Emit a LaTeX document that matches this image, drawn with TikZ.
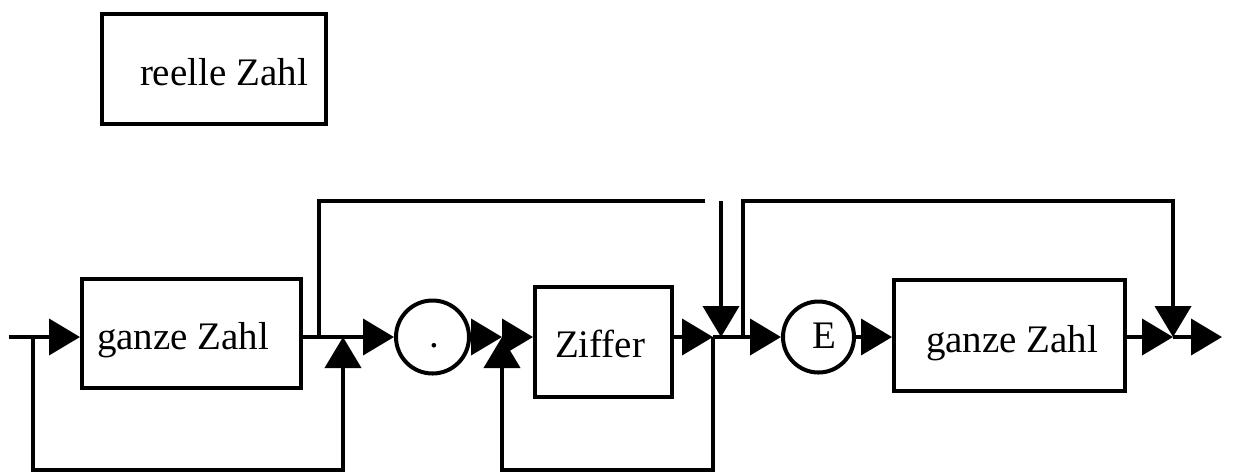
\documentclass[tikz,border=0pt]{standalone}
\usepackage{fontspec}
\setmainfont{Liberation Serif}
\usetikzlibrary{arrows.meta}
\begin{document}
\begin{tikzpicture}[x=0.5pt,y=-0.5pt,
  line width=2pt,
  box/.style={draw,rectangle,inner sep=0pt,line width=2pt},
  ring/.style={draw,circle,inner sep=0pt,line width=2pt},
  lbl/.style={inner sep=0pt,anchor=base west,font=\fontsize{19.5}{23}\selectfont},
  arr/.style={-{Triangle[length=15.5pt,width=18pt]}},
  ]
\useasboundingbox (0,0) rectangle (1234,472);
% title box
\node[box,minimum width=112pt,minimum height=55pt] (title) at (214,69) {};
\node[lbl] (titletext) at (138,85) {reelle Zahl};
% main nodes
\node[box,minimum width=109.5pt,minimum height=54.5pt] (b1) at (191.5,333.5) {};
\node[lbl] (b1text) at (95,349) {ganze Zahl};
\node[ring,minimum size=36.5pt] (dot) at (432.5,337) {};
\node[lbl] (dottext) at (427,347) {.};
\node[box,minimum width=68.5pt,minimum height=55pt] (zif) at (603.5,342) {};
\node[lbl] (ziftext) at (553,357) {Ziffer};
\node[ring,minimum size=35.5pt] (ecirc) at (818.5,337) {};
\node[lbl] (etext) at (810,348) {E};
\node[box,minimum width=115.5pt,minimum height=55.5pt] (b2) at (1009.5,335.5) {};
\node[lbl] (b2text) at (924,352) {ganze Zahl};
% junctions
\coordinate (start) at (9,337);
\coordinate (j1) at (33,337);
\coordinate (j1b) at (33,470);
\coordinate (j2) at (319,337);
\coordinate (j3) at (343,337);
\coordinate (j3b) at (343,470);
\coordinate (t1) at (705,201);
\coordinate (t2) at (721,201);
\coordinate (j4) at (502,337);
\coordinate (j4b) at (502,470);
\coordinate (j5a) at (713,337);
\coordinate (j5) at (721,337);
\coordinate (j6) at (743,337);
\coordinate (t3) at (1173,201);
\coordinate (j7) at (1173,337);
\coordinate (end) at (1222,337);
% connectors
\draw[arr] (start) -- (b1.west |- start);
\draw[arr] (j1) -- (j1b) -- (j3b) -- (j3);
\draw[arr] (b1.east |- j2) -- (dot.west);
\draw (j2) |- (t1);
\draw[arr] (t2) -- (j5);
\draw[arr] (dot.east) -- (j4);
\draw[arr] (j4) -- (zif.west |- j4);
\draw[arr] (j5a) |- (j4b) -- (j4);
\draw[arr] (zif.east |- j5a) -- (j5a);
\draw (j5a) -- (j6);
\draw[arr] (j6) -- (ecirc.west);
\draw[arr] (j6) |- (t3) -- (j7);
\draw[arr] (ecirc.east) -- (b2.west |- ecirc.east);
\draw[arr] (b2.east |- j7) -- (j7);
\draw[arr] (j7) -- (end);
\end{tikzpicture}
\end{document}
